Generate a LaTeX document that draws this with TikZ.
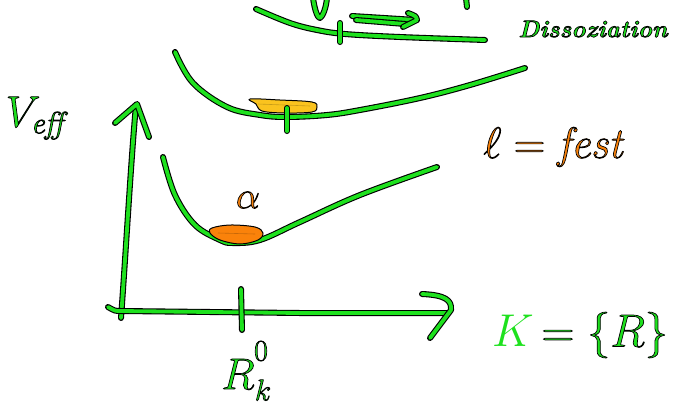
\RequirePackage{fix-cm}
\documentclass[tikz,border=0pt]{standalone}
\definecolor{pgreen}{RGB}{30,225,30}
\definecolor{porange}{RGB}{250,130,10}
\definecolor{pyellow}{RGB}{250,195,30}
\newcommand{\strokedtext}[1]{\special{pdf:literal direct 2 Tr 0 0 0 RG 0.7 w}#1\special{pdf:literal direct 0 Tr}}
\tikzset{
  gstroke/.style={draw=black, line width=6pt, line cap=round, line join=round,
    postaction={draw=pgreen, line width=3.8pt, line cap=round, line join=round}},
  blob/.style={draw=black, line width=1pt, line join=round},
  lbl/.style={inner sep=0pt, outer sep=0pt},
}
\begin{document}
\begin{tikzpicture}[x=1pt,y=-1pt]
\useasboundingbox (0,0) rectangle (677,408);

% top partial curve (dissociation limit)
\path[gstroke] plot[smooth, tension=0.6] coordinates {(256,9) (290,23) (317,30) (345,34) (400,37) (485,40)};
\path[gstroke] (340,23) -- (340,42);
\path[gstroke] (352,16) -- (416,20);
\path[gstroke] (356,20) -- (405,24);
\path[gstroke] (408,13) .. controls (416,16) .. (417,20) -- (403,27);
% cut-off marks at the top edge
\path[gstroke] (313,-2) .. controls (315,12) and (318,18) .. (320,18) .. controls (323,16) and (326,8) .. (327,-2);
\path[gstroke] (466,-2) -- (467,7);

% upper potential well
\path[gstroke] plot[smooth, tension=0.6] coordinates {(175,52) (193,83) (227,107) (260,115) (287,117) (327,115) (360,110) (420,98) (470,85) (525,68)};
\path[blob, fill=pyellow] plot[smooth cycle, tension=0.6] coordinates {(250,99) (280,100) (312,102) (317,107) (312,112) (285,113) (262,111) (256,104)};
\draw[pyellow!80!black, line width=0.6pt] (258,104) -- (310,106);
\path[gstroke] (287,108) -- (287,131);

% lower potential well
\path[gstroke] plot[smooth, tension=0.6] coordinates {(163,157) (175,195) (195,225) (220,240) (233,243) (260,240) (300,222) (360,195) (437,167)};
\path[blob, fill=porange] plot[smooth cycle, tension=0.6] coordinates {(212,228) (230,225) (255,227) (263,233) (258,240) (240,244) (220,240) (210,233)};
\draw[porange!80!black, line width=0.6pt] (218,233) -- (255,234);

% axes
\path[gstroke] (121,318) .. controls (126,250) and (131,160) .. (136,105);
\path[gstroke] (115,123) -- (137,104) -- (149,137);
\path[gstroke] (108,307) .. controls (115,311) .. (121,311) -- (300,313) -- (447,313);
\path[gstroke] (422,294) .. controls (445,295) and (452,300) .. (451,310) -- (430,338);
\path[gstroke] (241,289) -- (242,330);

% labels
\node[lbl] (veff) at (38,118) {\color{pgreen}\fontsize{44}{46}\selectfont\strokedtext{$V_{\mathit{eff}}$}};
\node[lbl] (diss) at (593,29) {\color{pgreen}\fontsize{24}{26}\selectfont\bfseries\itshape\strokedtext{Dissoziation}};
\node[lbl] (lfest) at (555,147) {\color{porange}\fontsize{44}{46}\selectfont\strokedtext{$\ell = \mathit{fest}$}};
\node[lbl] (alpha) at (248,200) {\color{porange}\fontsize{38}{40}\selectfont\strokedtext{$\alpha$}};
\node[lbl] (kset) at (580,335) {\fontsize{46}{48}\selectfont\textcolor{pgreen}{$K$}\,{\color{pgreen}\strokedtext{$= \{R\}$}}};
\node[lbl] (rR) at (238,374) {\color{pgreen}\fontsize{44}{46}\selectfont\strokedtext{$R$}};
\node[lbl] (rsup) at (261,351) {\color{pgreen}\fontsize{30}{32}\selectfont\strokedtext{$0$}};
\node[lbl] (rsub) at (263,390) {\color{pgreen}\fontsize{30}{32}\selectfont\strokedtext{$k$}};
\end{tikzpicture}
\end{document}
